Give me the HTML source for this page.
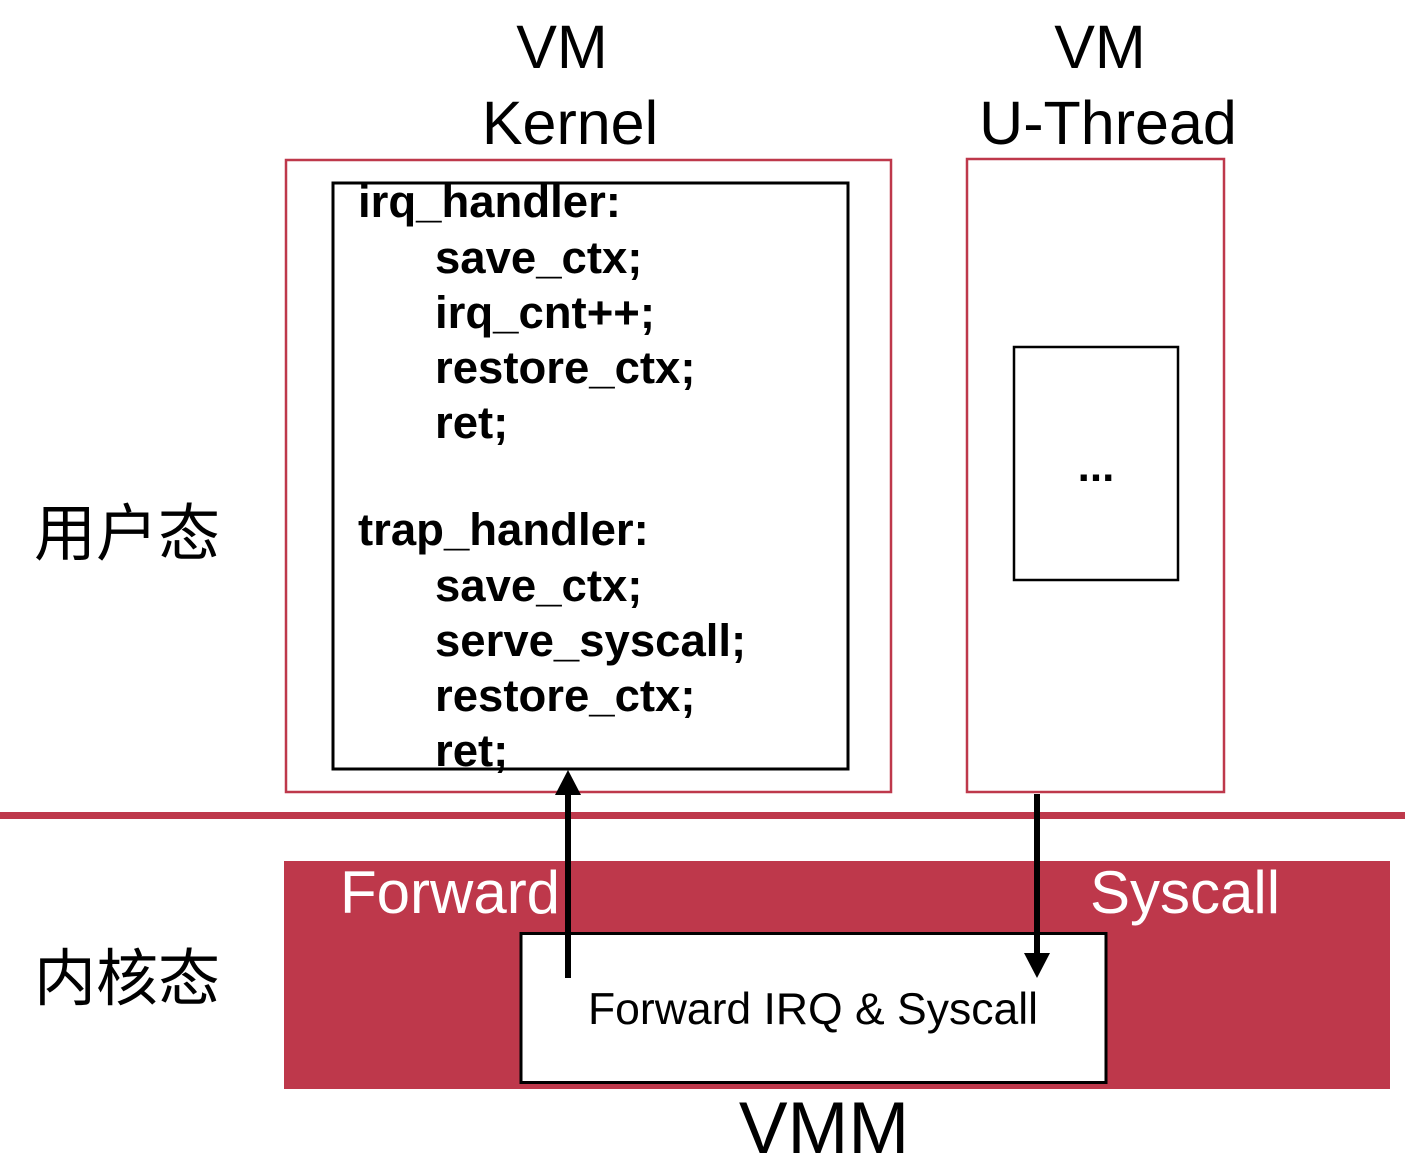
<!DOCTYPE html>
<html><head><meta charset="utf-8"><style>
html,body{margin:0;padding:0;background:#fff;}
svg{display:block;}
</style></head><body>
<svg width="1415" height="1163" viewBox="0 0 1415 1163" xmlns="http://www.w3.org/2000/svg">
<g font-family="Liberation Sans, Arial, sans-serif" fill="#000">
<text x="562" y="68" font-size="61" text-anchor="middle">VM</text>
<text x="570" y="144" font-size="61" text-anchor="middle">Kernel</text>
<text x="1100" y="68" font-size="61" text-anchor="middle">VM</text>
<text x="1108" y="144" font-size="61" text-anchor="middle">U-Thread</text>
</g>
<rect x="286" y="160" width="605" height="632" fill="none" stroke="#be384b" stroke-width="2.5"/>
<rect x="333" y="183" width="515" height="586" fill="none" stroke="#000" stroke-width="3"/>
<g font-family="Liberation Sans, Arial, sans-serif" font-weight="bold" font-size="45.5" fill="#000">
<text x="358" y="217">irq_handler:</text>
<text x="435" y="273">save_ctx;</text>
<text x="435" y="328">irq_cnt++;</text>
<text x="435" y="383">restore_ctx;</text>
<text x="435" y="438">ret;</text>
<text x="358" y="545">trap_handler:</text>
<text x="435" y="601">save_ctx;</text>
<text x="435" y="656">serve_syscall;</text>
<text x="435" y="711">restore_ctx;</text>
<text x="435" y="766">ret;</text>
</g>
<rect x="967" y="159" width="257" height="633" fill="none" stroke="#be384b" stroke-width="2.5"/>
<rect x="1014" y="347" width="164" height="233" fill="none" stroke="#000" stroke-width="2.5"/>
<text x="1096" y="481" font-family="Liberation Sans, Arial, sans-serif" font-size="44" font-weight="bold" text-anchor="middle">...</text>
<g font-family="Liberation Sans, Noto Sans CJK SC, sans-serif" font-size="62" fill="#000">
<text x="34" y="555">用户态</text>
<text x="34" y="1000">内核态</text>
</g>
<rect x="0" y="812" width="1405" height="7" fill="#be384b"/>
<rect x="284" y="861" width="1106" height="228" fill="#be384b"/>
<g font-family="Liberation Sans, Arial, sans-serif" font-size="60" fill="#fff">
<text x="340" y="913">Forward</text>
<text x="1090" y="913">Syscall</text>
</g>
<rect x="521" y="933.5" width="585" height="149" fill="#fff" stroke="#000" stroke-width="3"/>
<text x="813" y="1024" font-family="Liberation Sans, Arial, sans-serif" font-size="44.5" text-anchor="middle">Forward IRQ &amp; Syscall</text>
<text x="824" y="1153" font-family="Liberation Sans, Arial, sans-serif" font-size="73" text-anchor="middle">VMM</text>
<rect x="565" y="790" width="6" height="188" fill="#000"/>
<polygon points="568,770 555,795 581,795" fill="#000"/>
<rect x="1034" y="794" width="6" height="162" fill="#000"/>
<polygon points="1037,978 1024,953 1050,953" fill="#000"/>
</svg>
</body></html>
